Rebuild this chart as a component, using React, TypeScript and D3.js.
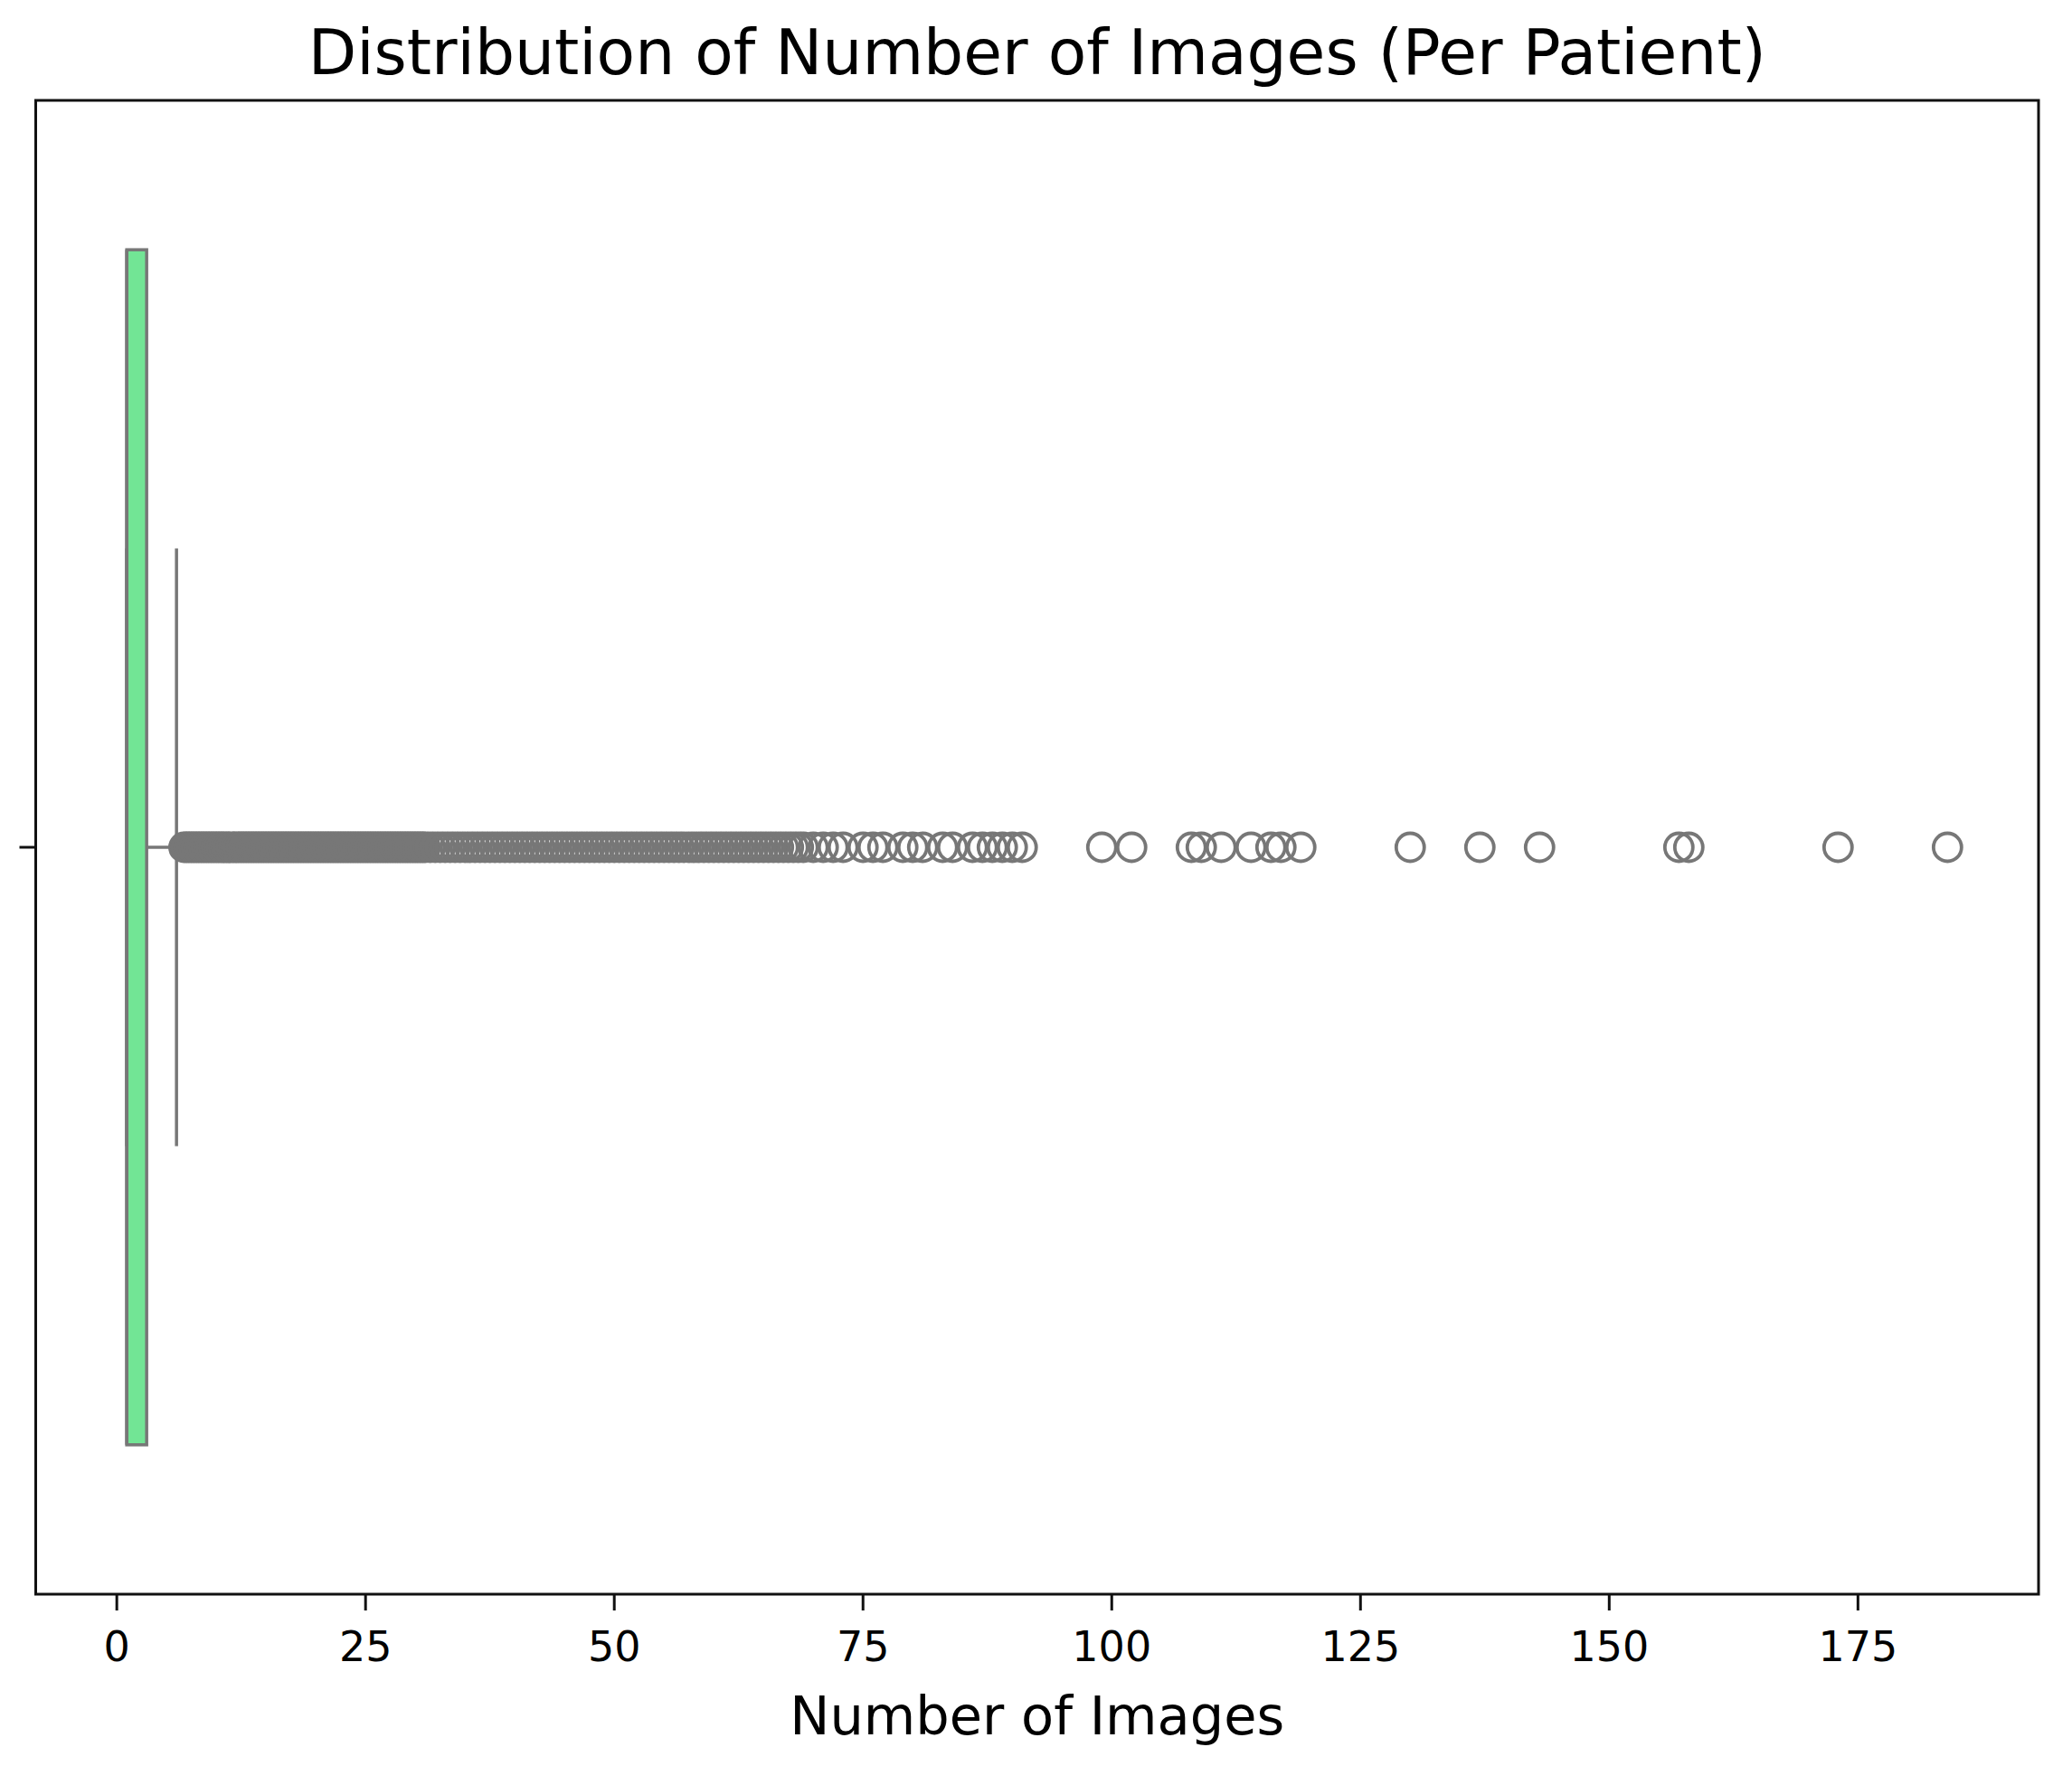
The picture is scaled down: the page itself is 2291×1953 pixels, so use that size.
import React from "react";
import * as d3 from "d3";

const title = "Distribution of Number of Images (Per Patient)";
const xLabel = "Number of Images";
const xTicks = [0, 25, 50, 75, 100, 125, 150, 175];
// box statistics: [q1, median, q3]
const quartiles = [1, 1, 3];
// whisker ends: [low, high]
const whiskers = [1, 6];
const dataMin = 1;
// densely packed outliers (the reference shows a solid band here)
const denseOutliers = [
  6.75, 7, 7.25, 7.5, 7.75, 8, 8.25, 8.5, 8.75, 9, 9.25, 9.5, 9.75, 10, 10.25,
  10.5, 10.75, 11, 11.25, 11.5, 11.75, 12, 12.25, 12.5, 12.75, 13, 13.25, 13.5,
  13.75, 14, 14.25, 14.5, 14.75, 15, 15.25, 15.5, 15.75, 16, 16.25, 16.5,
  16.75, 17, 17.25, 17.5, 17.75, 18, 18.25, 18.5, 18.75, 19, 19.25, 19.5,
  19.75, 20, 20.25, 20.5, 20.75, 21, 21.25, 21.5, 21.75, 22, 22.25, 22.5,
  22.75, 23, 23.25, 23.5, 23.75, 24, 24.25, 24.5, 24.75, 25, 25.25, 25.5,
  25.75, 26, 26.25, 26.5, 26.75, 27, 27.25, 27.5, 27.75, 28, 28.25, 28.5,
  28.75, 29, 29.25, 29.5, 29.75, 30, 30.25, 30.5, 30.75, 31,
  31.5, 32, 32.5, 33, 33.5, 34, 34.5, 35, 35.5, 36, 36.5, 37, 37.5, 38, 38.5,
  39, 39.5, 40, 40.5, 41, 41.5, 42, 42.5, 43, 43.5, 44, 44.5, 45, 45.5, 46,
  46.5, 47, 47.5, 48, 48.5, 49, 49.5, 50, 50.5, 51, 51.5, 52, 52.5, 53, 53.5,
  54, 54.5, 55, 55.5, 56, 56.5, 57, 57.5, 58, 58.5, 59, 59.5, 60, 60.5, 61,
  61.5, 62, 62.5, 63, 63.5, 64, 64.5, 65, 65.5, 66, 66.5, 67, 67.5, 68, 68.5,
  69,
];
const sparseOutliers = [
  70, 71, 72, 73, 75, 76, 77, 79, 80, 81, 83, 84, 86, 87, 88, 89, 90, 91, 99,
  102, 108, 109, 111, 114, 116, 117, 119, 130, 137, 143, 157, 158, 173, 184,
];

const W = 2291;
const H = 1953;
const M = { left: 39.5, right: 2254, top: 111, bottom: 1763 };
const FONT = "DejaVu Sans, sans-serif";
const BOX_FILL = "#72e595";
const LINE = "#777777";
const AXIS = "#111111";

export default function App() {
  const outliers = [...denseOutliers, ...sparseOutliers];
  const [lo, hi] = d3.extent([dataMin, ...outliers]) as [number, number];
  const pad = (hi - lo) * 0.05;
  const x = d3.scaleLinear().domain([lo - pad, hi + pad]).range([M.left, M.right]);
  const y = d3.scaleLinear().domain([-0.5, 0.5]).range([M.top, M.bottom]);
  const cy = y(0);
  const boxTop = y(-0.4);
  const boxBot = y(0.4);
  const capTop = y(-0.2);
  const capBot = y(0.2);
  const [q1, med, q3] = quartiles;
  const [wLo, wHi] = whiskers;
  const lw = 3.5;

  return (
    <svg
      width={W}
      height={H}
      style={{ position: "absolute", left: 0, top: 0, background: "#fff" }}
      fontFamily={FONT}
    >
      <rect x={0} y={0} width={W} height={H} fill="#fff" />
      <line x1={x(wLo)} x2={x(q1)} y1={cy} y2={cy} stroke={LINE} strokeWidth={lw} />
      <line x1={x(q3)} x2={x(wHi)} y1={cy} y2={cy} stroke={LINE} strokeWidth={lw} />
      <rect
        x={x(q1)}
        y={boxTop}
        width={x(q3) - x(q1)}
        height={boxBot - boxTop}
        fill={BOX_FILL}
        stroke={LINE}
        strokeWidth={lw}
      />
      <line x1={x(wLo)} x2={x(wLo)} y1={capTop} y2={capBot} stroke={LINE} strokeWidth={lw} />
      <line x1={x(wHi)} x2={x(wHi)} y1={capTop} y2={capBot} stroke={LINE} strokeWidth={lw} />
      <line x1={x(med)} x2={x(med)} y1={boxTop} y2={boxBot} stroke={LINE} strokeWidth={lw} />
      {outliers.map((v, i) => (
        <circle key={i} cx={x(v)} cy={cy} r={15.5} fill="none" stroke={LINE} strokeWidth={3.8} />
      ))}
      <rect
        x={M.left}
        y={M.top}
        width={M.right - M.left}
        height={M.bottom - M.top}
        fill="none"
        stroke={AXIS}
        strokeWidth={3}
      />
      <line x1={M.left} x2={M.left - 18} y1={cy} y2={cy} stroke={AXIS} strokeWidth={3} />
      {xTicks.map((t) => (
        <g key={t}>
          <line x1={x(t)} x2={x(t)} y1={M.bottom} y2={M.bottom + 18} stroke={AXIS} strokeWidth={3} />
          <text x={x(t)} y={1837} textAnchor="middle" fontSize={46} fill="#000">
            {t}
          </text>
        </g>
      ))}
      <text x={(M.left + M.right) / 2} y={1918} textAnchor="middle" fontSize={59} fill="#000">
        {xLabel}
      </text>
      <text x={(M.left + M.right) / 2} y={82} textAnchor="middle" fontSize={69.5} fill="#000">
        {title}
      </text>
    </svg>
  );
}
